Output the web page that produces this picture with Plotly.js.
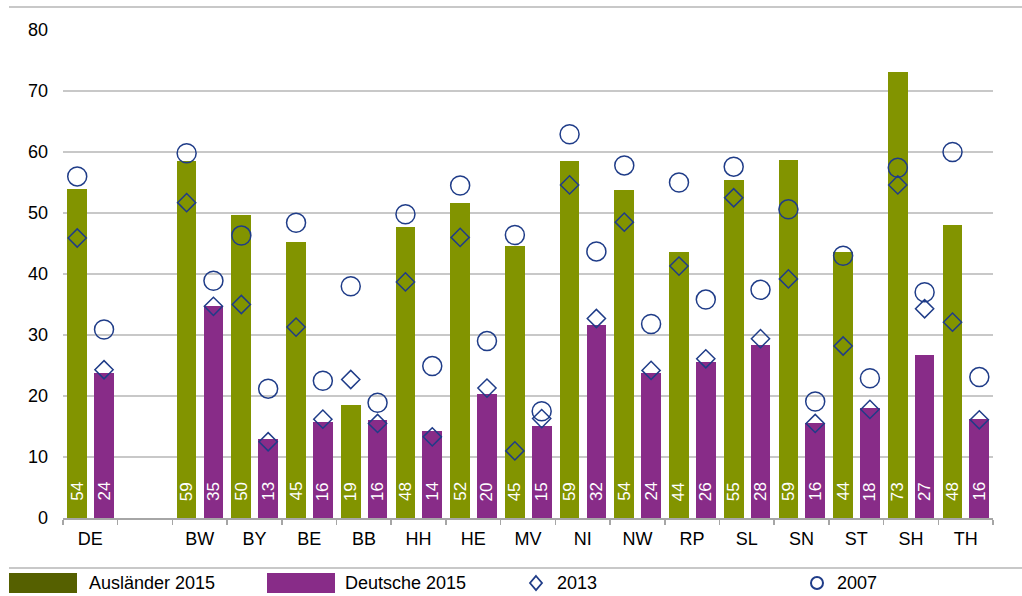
<!DOCTYPE html>
<html>
<head>
<meta charset="utf-8">
<script src="https://cdn.plot.ly/plotly-3.0.1.min.js"></script>
<style>
  html, body { margin: 0; padding: 0; background: #ffffff; }
  #chart { width: 1022px; height: 596px; }
</style>
</head>
<body>
<div id="chart"></div>
<script>
// ---- data ----
var regions = ['DE', ' ', 'BW', 'BY', 'BE', 'BB', 'HH', 'HE', 'MV', 'NI', 'NW', 'RP', 'SL', 'SN', 'ST', 'SH', 'TH'];
var auslaender2015 = [53.9, null, 58.6, 49.6, 45.2, 18.6, 47.7, 51.6, 44.6, 58.6, 53.8, 43.6, 55.4, 58.7, 43.6, 73.1, 48.0];
var deutsche2015   = [23.7, null, 34.8, 13.0, 15.8, 16.0, 14.2, 20.4, 15.1, 31.7, 23.7, 25.5, 28.3, 15.5, 18.1, 26.7, 16.3];
var auslaender2013 = [45.9, null, 51.7, 35.0, 31.3, 22.7, 38.7, 46.0, 11.0, 54.6, 48.5, 41.3, 52.5, 39.2, 28.2, 54.6, 32.1];
var deutsche2013   = [24.3, null, 34.7, 12.5, 16.2, 15.5, 13.3, 21.3, 16.3, 32.7, 24.2, 26.1, 29.4, 15.5, 17.8, 34.3, 16.1];
var auslaender2007 = [56.0, null, 59.8, 46.3, 48.4, 38.0, 49.8, 54.5, 46.4, 62.9, 57.8, 55.0, 57.6, 50.6, 43.0, 57.4, 60.0];
var deutsche2007   = [30.9, null, 38.9, 21.2, 22.5, 18.9, 24.9, 29.0, 17.5, 43.7, 31.8, 35.8, 37.4, 19.1, 22.9, 37.0, 23.1];
var legendLabels = ['Ausländer 2015', 'Deutsche 2015', '2013', '2007'];

// ---- style ----
var GREEN = '#829400', PURPLE = '#882c88', GREEN_DARK = '#556000', NAVY = '#1f3c88', GRID = '#c8c8c8', AXIS = '#a6a6a6';
var FONT = 'Liberation Sans, Arial, sans-serif';
var BAR_W = 0.36, OFF_A = -0.42, OFF_D = 0.07;
var idx = regions.map(function (_, i) { return i; });
var xA = idx.map(function (i) { return i + OFF_A + BAR_W / 2; });
var xD = idx.map(function (i) { return i + OFF_D + BAR_W / 2; });

var M = { l: 63, r: 29, t: 30, b: 78 };
var W = 1022 - M.l - M.r, H = 596 - M.t - M.b;
function px(x) { return (x - M.l) / W; }
function py(y) { return (596 - M.b - y) / H; }

var traces = [
  { type: 'bar', name: legendLabels[0], x: regions, y: auslaender2015, width: BAR_W, offset: OFF_A,
    marker: { color: GREEN }, showlegend: false, hoverinfo: 'x+y' },
  { type: 'bar', name: legendLabels[1], x: regions, y: deutsche2015, width: BAR_W, offset: OFF_D,
    marker: { color: PURPLE }, showlegend: false, hoverinfo: 'x+y' },
  { type: 'scatter', mode: 'markers', name: legendLabels[2], x: xA, y: auslaender2013, xaxis: 'x2',
    marker: { symbol: 'diamond-open', size: 14, color: NAVY, line: { width: 1.5, color: NAVY } }, showlegend: false },
  { type: 'scatter', mode: 'markers', name: legendLabels[2], x: xD, y: deutsche2013, xaxis: 'x2',
    marker: { symbol: 'diamond-open', size: 14, color: NAVY, line: { width: 1.5, color: NAVY } }, showlegend: false },
  { type: 'scatter', mode: 'markers', name: legendLabels[3], x: xA, y: auslaender2007, xaxis: 'x2',
    marker: { symbol: 'circle-open', size: 19, color: NAVY, line: { width: 1.5, color: NAVY } }, showlegend: false },
  { type: 'scatter', mode: 'markers', name: legendLabels[3], x: xD, y: deutsche2007, xaxis: 'x2',
    marker: { symbol: 'circle-open', size: 19, color: NAVY, line: { width: 1.5, color: NAVY } }, showlegend: false }
];

// ---- value labels inside the bars (rotated, near the base) ----
var annotations = [];
function addValueLabels(xs, ys) {
  ys.forEach(function (v, i) {
    if (v === null) return;
    annotations.push({ text: String(Math.round(v)), xref: 'x2', yref: 'y', x: xs[i], y: 0,
      xanchor: 'center', yanchor: 'bottom', yshift: 15, textangle: -90, showarrow: false,
      font: { family: FONT, size: 17, color: '#ffffff' } });
  });
}
addValueLabels(xA, auslaender2015);
addValueLabels(xD, deutsche2015);

// ---- manual legend ----
var LY = 583;
var shapes = [
  { type: 'line', xref: 'paper', yref: 'paper', x0: px(9), x1: px(1022), y0: py(7), y1: py(7), line: { color: GRID, width: 2 } },
  { type: 'line', xref: 'paper', yref: 'paper', x0: px(9), x1: px(1022), y0: py(568), y1: py(568), line: { color: GRID, width: 2 } },
  { type: 'rect', xref: 'paper', yref: 'paper', x0: px(9), x1: px(77), y0: py(573), y1: py(593), fillcolor: GREEN_DARK, line: { width: 0 } },
  { type: 'rect', xref: 'paper', yref: 'paper', x0: px(267), x1: px(335), y0: py(573), y1: py(593), fillcolor: PURPLE, line: { width: 0 } },
  { type: 'path', xref: 'paper', yref: 'paper',
    path: 'M ' + px(536) + ' ' + py(576) + ' L ' + px(542) + ' ' + py(583) + ' L ' + px(536) + ' ' + py(590) + ' L ' + px(530) + ' ' + py(583) + ' Z',
    line: { color: NAVY, width: 1.8 } },
  { type: 'circle', xref: 'paper', yref: 'paper', x0: px(811), x1: px(823), y0: py(577), y1: py(589), line: { color: NAVY, width: 2 } }
];
var legendX = [87, 343, 555, 835];
legendLabels.forEach(function (t, i) {
  annotations.push({ text: t, xref: 'paper', yref: 'paper', x: px(legendX[i]), y: py(LY), xanchor: 'left', yanchor: 'middle',
           showarrow: false, font: { family: FONT, size: 18, color: '#000000' } });
});

var layout = {
  width: 1022, height: 596, margin: M,
  paper_bgcolor: '#ffffff', plot_bgcolor: '#ffffff',
  font: { family: FONT, size: 18, color: '#000000' },
  showlegend: false,
  bargap: 0,
  xaxis: {
    type: 'category', categoryorder: 'array', categoryarray: regions, range: [-0.5, regions.length - 0.5],
    tickson: 'boundaries', ticks: 'outside', ticklen: 5, tickwidth: 1.5, tickcolor: AXIS,
    showline: true, linecolor: AXIS, linewidth: 1.5, showgrid: false, zeroline: false, ticklabelstandoff: 4,
    tickfont: { family: FONT, size: 18, color: '#000000' }, fixedrange: true
  },
  xaxis2: { overlaying: 'x', range: [-0.5, regions.length - 0.5], visible: false, fixedrange: true },
  yaxis: {
    range: [0, 80], dtick: 10, tick0: 0, showgrid: true, gridcolor: GRID, gridwidth: 1.5,
    zeroline: false, showline: false, ticks: '', ticklabelstandoff: 14,
    tickfont: { family: FONT, size: 18, color: '#000000' }, fixedrange: true
  },
  shapes: shapes,
  annotations: annotations
};

Plotly.newPlot('chart', traces, layout, { displayModeBar: false, staticPlot: true });
</script>
</body>
</html>
